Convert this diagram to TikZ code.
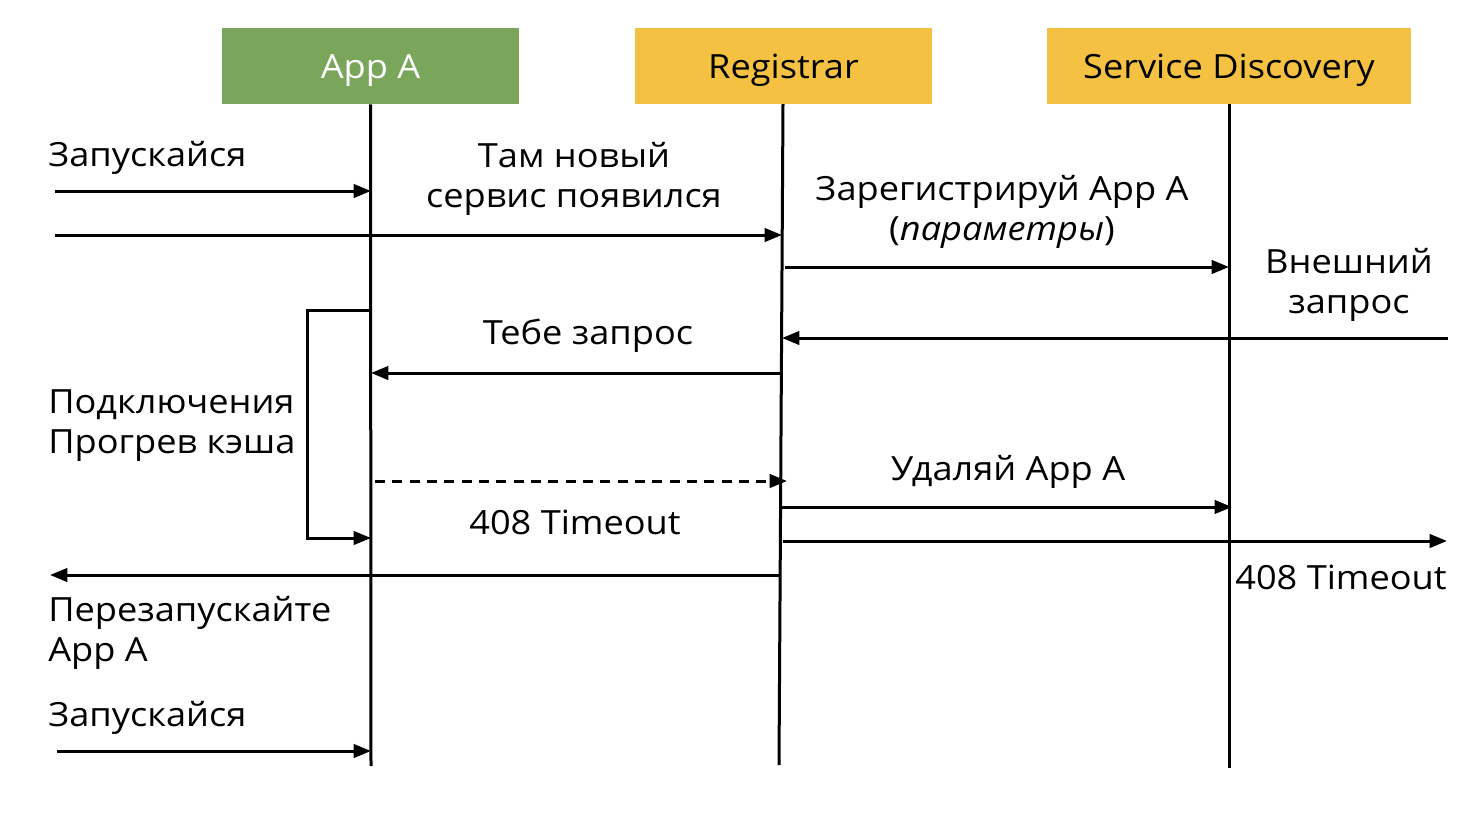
\documentclass[tikz,border=0pt]{standalone}
\usepackage{fontspec}
\setmainfont[FakeStretch=1.085]{Open Sans}
\usetikzlibrary{arrows.meta}
\definecolor{appgreen}{HTML}{79A65B}
\definecolor{regyellow}{HTML}{F5C142}
\begin{document}
\begin{tikzpicture}[x=0.75pt,y=-0.75pt,
  txt/.style={font=\fontsize{25pt}{30pt}\selectfont, inner sep=0pt, align=center},
  head/.style={txt, minimum height=57pt, text height=18pt, text depth=0pt, anchor=center},
  life/.style={line width=2.25pt},
  msg/.style={line width=2.25pt, -{Triangle[length=13pt,width=10pt]}},
  dmsg/.style={msg, dash pattern=on 7.5pt off 5.5pt}]
\useasboundingbox (0,0) rectangle (1482,818);
% headers
\node[head, fill=appgreen, text=white, minimum width=222.75pt] (appa) at (370.5,66) {App A};
\node[head, fill=regyellow, minimum width=222.75pt] (reg) at (783.5,66) {Registrar};
\node[head, fill=regyellow, minimum width=273pt] (sd) at (1229,66) {Service Discovery};
% lifelines
\coordinate (appaEnd) at (371,766);
\coordinate (regTop) at (783,104);
\coordinate (regEnd) at (779,765);
\coordinate (sdEnd) at (1229,768);
\draw[life] (appa.south) -- (appaEnd);
\draw[life] (regTop) -- (regEnd);
\draw[life] (sd.south) -- (sdEnd);
% messages
\coordinate (m1s) at (55,191); \coordinate (m1e) at (371,191);
\draw[msg] (m1s) -- (m1e);
\node[txt, anchor=base west] (t1) at (48,166) {Запускайся};

\coordinate (m2s) at (55,235); \coordinate (m2e) at (782,235);
\draw[msg] (m2s) -- (m2e);
\node[txt, anchor=base] (t2) at (574,207) {Там новый\\сервис появился};

\coordinate (m3s) at (785,267); \coordinate (m3e) at (1229,267);
\draw[msg] (m3s) -- (m3e);
\node[txt, anchor=base] (t3) at (1002,240) {Зарегистрируй App A\\(\textit{параметры})};

\coordinate (m4s) at (1448,338); \coordinate (m4e) at (782,338);
\draw[msg] (m4s) -- (m4e);
\node[txt, anchor=base] (t4) at (1349,313) {Внешний\\запрос};

\coordinate (m5s) at (781,373); \coordinate (m5e) at (371,373);
\draw[msg] (m5s) -- (m5e);
\node[txt, anchor=base] (t5) at (588,344) {Тебе запрос};

\coordinate (bt) at (371,310); \coordinate (bl) at (307,310); \coordinate (bb) at (371,538);
\draw[msg] (bt) -- (bl) |- (bb);
\node[txt, anchor=base west, align=left] (t6) at (48,453) {Подключения\\Прогрев кэша};

\coordinate (m7s) at (375,481); \coordinate (m7e) at (787,481);
\draw[dmsg] (m7s) -- (m7e);
\node[txt, anchor=base] (t7) at (575,534) {408 Timeout};

\coordinate (m8s) at (781,507); \coordinate (m8e) at (1232,507);
\draw[msg] (m8s) -- (m8e);
\node[txt, anchor=base] (t8) at (1008,480) {Удаляй App A};

\coordinate (m9s) at (783,541); \coordinate (m9e) at (1447,541);
\draw[msg] (m9s) -- (m9e);
\node[txt, anchor=base] (t9) at (1341,589) {408 Timeout};

\coordinate (m10s) at (781,575); \coordinate (m10e) at (50,575);
\draw[msg] (m10s) -- (m10e);
\node[txt, anchor=base west, align=left] (t10) at (48,661) {Перезапускайте\\App A};

\coordinate (m11s) at (57,751); \coordinate (m11e) at (371,751);
\draw[msg] (m11s) -- (m11e);
\node[txt, anchor=base west] (t11) at (48,726) {Запускайся};
\end{tikzpicture}
\end{document}
